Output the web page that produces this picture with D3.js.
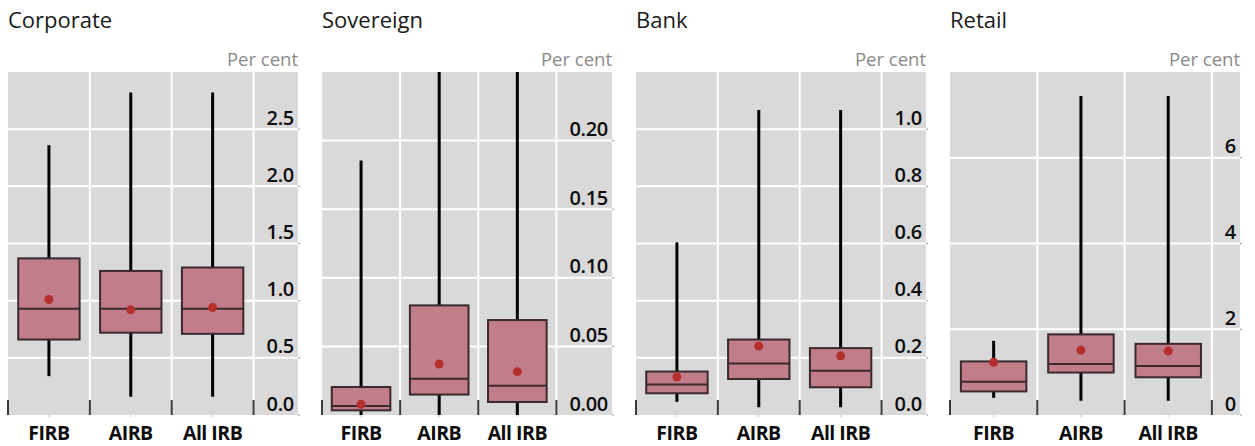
<!DOCTYPE html>
<html>
<head>
<meta charset="utf-8">
<script src="https://cdn.jsdelivr.net/npm/d3@7"></script>
<style>
  html, body { margin: 0; padding: 0; background: #ffffff; }
  svg { display: block; font-family: "Open Sans", "Noto Sans", sans-serif; }
</style>
</head>
<body>
<svg id="chart" width="1255" height="446"></svg>
<script>
// ---------- data ----------
const panels = ["Corporate", "Sovereign", "Bank", "Retail"];
const categories = ["FIRB", "AIRB", "All IRB"];
const unitLabel = "Per cent";

const yMaxes = [3, 0.25, 1.2, 8];
const tickValues = [
  [0, 0.5, 1.0, 1.5, 2.0, 2.5],
  [0, 0.05, 0.10, 0.15, 0.20],
  [0, 0.2, 0.4, 0.6, 0.8, 1.0],
  [0, 2, 4, 6]
];
const tickFormats = [".1f", ".2f", ".1f", "d"];

// per panel, per category (FIRB, AIRB, All IRB)
const whiskerLow  = [[0.34, 0.16, 0.16], [0, 0, 0],                [0.046, 0.027, 0.027], [0.40, 0.33, 0.33]];
const quartile1   = [[0.66, 0.72, 0.71], [0.0034, 0.0149, 0.0095], [0.076, 0.126, 0.097], [0.55, 0.99, 0.88]];
const medians     = [[0.93, 0.93, 0.93], [0.0066, 0.0265, 0.0214], [0.107, 0.180, 0.155], [0.775, 1.19, 1.14]];
const quartile3   = [[1.37, 1.26, 1.29], [0.0204, 0.0799, 0.0692], [0.152, 0.264, 0.234], [1.25, 1.88, 1.66]];
const whiskerHigh = [[2.36, 2.82, 2.82], [0.1855, 0.30, 0.30],     [0.604, 1.067, 1.067], [1.73, 7.44, 7.44]];
const means       = [[1.01, 0.92, 0.94], [0.0078, 0.0371, 0.0316], [0.133, 0.241, 0.207], [1.23, 1.51, 1.49]];

// ---------- layout ----------
const svg = d3.select("#chart");
const plotTop = 72, plotBottom = 415;
const firstLeft = 8, panelW = 290, panelGap = 24;

const bgColor = "#d9d9d9";
const boxFill = "#c27d8b";
const boxStroke = "#3a2a2d";
const meanColor = "#b3302d";

panels.forEach((name, i) => {
  const x0 = firstLeft + i * (panelW + panelGap);
  const x1 = x0 + panelW;
  const g = svg.append("g");

  const y = d3.scaleLinear().domain([0, yMaxes[i]]).range([plotBottom, plotTop]);

  // title
  g.append("text").attr("x", x0).attr("y", 28)
    .attr("font-size", 22).attr("fill", "#1a1a1a").text(name);
  // unit
  g.append("text").attr("x", x1).attr("y", 66).attr("text-anchor", "end")
    .attr("font-size", 18.5).attr("fill", "#8a8a8a").text(unitLabel);

  // background
  g.append("rect").attr("x", x0).attr("y", plotTop)
    .attr("width", panelW).attr("height", plotBottom - plotTop).attr("fill", bgColor);

  // y axis labels (right side, above gridlines)
  const yAxis = d3.axisLeft(y).tickValues(tickValues[i])
    .tickFormat(d3.format(tickFormats[i])).tickSize(0).tickPadding(0);
  const ya = g.append("g").attr("transform", `translate(${x1 - 4},0)`).call(yAxis);
  ya.select(".domain").remove();
  ya.selectAll("text").attr("dy", -5).attr("font-size", 20).attr("font-weight", 600)
    .attr("fill", "#0d0d0d").attr("font-family", "'Open Sans', sans-serif")
    .attr("letter-spacing", -0.3);
  let maxW = 0;
  ya.selectAll("text").each(function () { maxW = Math.max(maxW, this.getComputedTextLength()); });

  const bandsRight = x1 - (maxW + 17);
  const x = d3.scaleBand().domain(categories).range([x0, bandsRight]).padding(0);

  // gridlines
  const grid = g.insert("g", () => ya.node());
  grid.selectAll("line.h").data(tickValues[i].filter(t => t > 0)).join("line")
    .attr("x1", x0).attr("x2", x1).attr("y1", d => y(d)).attr("y2", d => y(d))
    .attr("stroke", "#ffffff").attr("stroke-width", 2);
  const vlines = categories.slice(1).map(c => x(c)).concat([bandsRight]);
  grid.selectAll("line.v").data(vlines).join("line")
    .attr("x1", d => d).attr("x2", d => d).attr("y1", plotTop).attr("y2", plotBottom)
    .attr("stroke", "#ffffff").attr("stroke-width", 2);

  // right tick marks
  g.selectAll("line.rt").data(tickValues[i]).join("line")
    .attr("x1", x1).attr("x2", x1 + 2).attr("y1", d => y(d)).attr("y2", d => y(d))
    .attr("stroke", "#999").attr("stroke-width", 1);

  // bottom separator ticks
  const seps = categories.map(c => x(c)).concat([bandsRight]);
  g.selectAll("line.sep").data(seps).join("line")
    .attr("x1", d => d).attr("x2", d => d).attr("y1", plotBottom - 15).attr("y2", plotBottom)
    .attr("stroke", "#3a3a3a").attr("stroke-width", 2);

  // clip
  const clipId = "clip" + i;
  svg.append("clipPath").attr("id", clipId).append("rect")
    .attr("x", x0).attr("y", plotTop).attr("width", panelW).attr("height", plotBottom - plotTop);
  const marks = g.append("g").attr("clip-path", `url(#${clipId})`);

  const bw = x.bandwidth() * 0.75;
  categories.forEach((c, j) => {
    const cx = x(c) + x.bandwidth() / 2;
    // whisker
    marks.append("line").attr("x1", cx).attr("x2", cx)
      .attr("y1", y(whiskerLow[i][j])).attr("y2", y(whiskerHigh[i][j]))
      .attr("stroke", "#000").attr("stroke-width", 3);
    // box
    marks.append("rect").attr("x", cx - bw / 2).attr("y", y(quartile3[i][j]))
      .attr("width", bw).attr("height", y(quartile1[i][j]) - y(quartile3[i][j]))
      .attr("fill", boxFill).attr("stroke", boxStroke).attr("stroke-width", 2);
    // median
    marks.append("line").attr("x1", cx - bw / 2).attr("x2", cx + bw / 2)
      .attr("y1", y(medians[i][j])).attr("y2", y(medians[i][j]))
      .attr("stroke", boxStroke).attr("stroke-width", 2);
    // mean
    marks.append("circle").attr("cx", cx).attr("cy", y(means[i][j])).attr("r", 4.5)
      .attr("fill", meanColor);
  });

  // x axis
  const xAxis = d3.axisBottom(x).tickSize(2).tickPadding(0);
  const xa = g.append("g").attr("transform", `translate(0,${plotBottom})`).call(xAxis);
  xa.select(".domain").remove();
  xa.selectAll(".tick line").attr("stroke", "#c8c8c8");
  xa.selectAll("text").attr("y", 25).attr("dy", 0).attr("font-size", 19.5).attr("font-weight", 700)
    .attr("fill", "#0d0d0d").attr("font-family", "'Open Sans', sans-serif").attr("letter-spacing", -0.5);
});
</script>
</body>
</html>
